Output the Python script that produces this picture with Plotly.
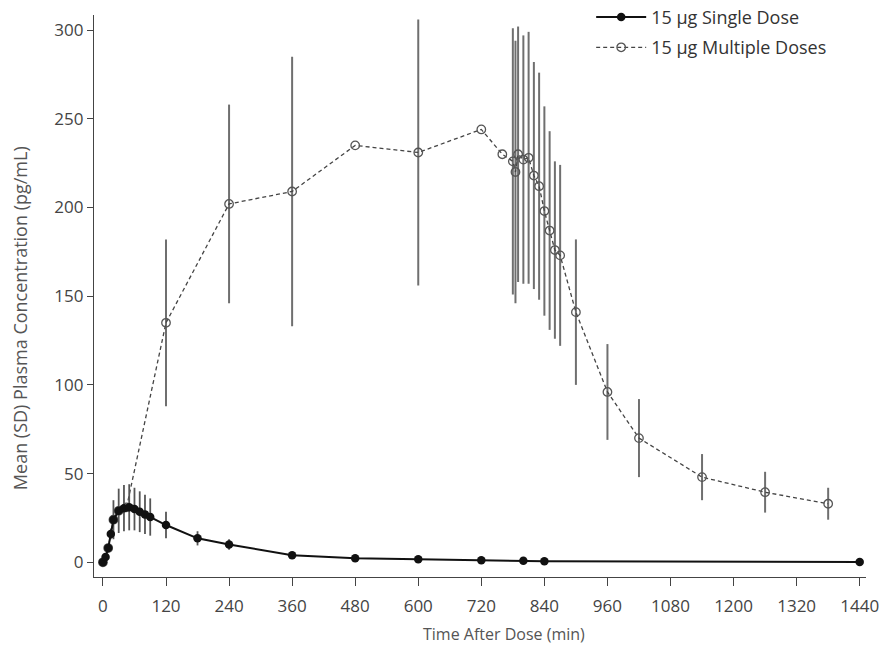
import plotly.graph_objects as go

# Single dose (15 µg)
single_time = [0, 5, 10, 15, 20, 30, 40, 50, 60, 70, 80, 90, 120, 180, 240, 360, 480, 600, 720, 800, 840, 1440]
single_mean = [0, 3, 8, 16, 24, 29, 30.5, 31, 30, 28.5, 27, 25.5, 21, 13.5, 10, 4, 2.3, 1.7, 1.1, 0.8, 0.6, 0.2]
single_sd = [0, 0.5, 1.5, 3, 11, 12.5, 13, 13, 12, 11.5, 11, 10.5, 7.5, 4, 3, 1, 0.5, 0.3, 0.2, 0.2, 0.2, 0]

# Multiple doses (15 µg)
multi_time = [0, 10, 20, 30, 45, 120, 240, 360, 480, 600, 720, 760, 780, 785, 790, 800, 810, 820, 830, 840, 850, 860, 870, 900, 960, 1020, 1140, 1260, 1380]
multi_mean = [0, 8, 24, 29, 31, 135, 202, 209, 235, 231, 244, 230, 226, 220, 230, 227, 228, 218, 212, 198, 187, 176, 173, 141, 96, 70, 48, 39.5, 33]
multi_sd = [0, 0, 0, 0, 0, 47, 56, 76, 0, 75, 0, 0, 75, 74, 72, 70, 71, 64, 64, 59, 56, 50, 51, 41, 27, 22, 13, 11.5, 9]

x_ticks = list(range(0, 1441, 120))
y_ticks = [0, 50, 100, 150, 200, 250, 300]

x_title = "Time After Dose (min)"
y_title = "Mean (SD) Plasma Concentration (pg/mL)"

fig = go.Figure()

fig.add_trace(go.Scatter(
    x=multi_time, y=multi_mean,
    mode="lines+markers",
    name="15 µg Multiple Doses",
    legendrank=2, legendgroup="multi",
    line=dict(color="#444444", width=1.3, dash="4px,3px"),
    marker=dict(symbol="circle-open", size=8.5, color="#555555", line=dict(width=1.3)),
    error_y=dict(type="data", array=multi_sd, visible=True, color="#6f6f6f", thickness=2, width=0),
))

fig.add_trace(go.Scatter(
    x=single_time, y=single_mean,
    mode="lines+markers",
    name="15 µg Single Dose",
    legendrank=1, legendgroup="single",
    line=dict(color="#111111", width=2),
    marker=dict(symbol="circle", size=8.5, color="#111111"),
    error_y=dict(type="data", array=single_sd, visible=True, color="#555555", thickness=1.8, width=0),
))

font_family = "Open Sans, Noto Sans, sans-serif"

fig.update_layout(
    width=883, height=652,
    margin=dict(l=94, r=17, t=15, b=75, autoexpand=False),
    paper_bgcolor="white",
    plot_bgcolor="white",
    font=dict(family=font_family, size=15, color="#444444"),
    showlegend=True,
    legend=dict(
        x=0.644, y=1.029, xanchor="left", yanchor="top",
        bgcolor="rgba(255,255,255,0)",
        font=dict(size=18, color="#333333"),
        itemwidth=50,
        tracegroupgap=4,
    ),
    xaxis=dict(
        range=[-17, 1452],
        tickvals=x_ticks,
        ticktext=[str(t) for t in x_ticks],
        showgrid=False, zeroline=False,
        showline=True, linecolor="#444444", linewidth=1.2,
        ticks="outside", ticklen=8, tickcolor="#444444",
        ticklabelstandoff=5,
        automargin=False,
        tickfont=dict(size=17, color="#444444"),
    ),
    yaxis=dict(
        range=[-8.3, 308.5],
        tickvals=y_ticks,
        showgrid=False, zeroline=False,
        showline=True, linecolor="#444444", linewidth=1.2,
        ticks="outside", ticklen=6, tickcolor="#444444",
        automargin=False,
        tickfont=dict(size=17, color="#444444"),
    ),
    annotations=[
        dict(text=x_title, xref="paper", yref="paper", x=0.531, y=-0.101,
             xanchor="center", yanchor="middle", showarrow=False,
             font=dict(size=16, color="#555555")),
        dict(text=y_title, xref="paper", yref="paper", x=-0.095, y=0.46,
             xanchor="center", yanchor="middle", showarrow=False, textangle=-90,
             font=dict(size=18, color="#555555")),
    ],
)

fig.write_html(
    "out.html",
    config={"displayModeBar": False},
    post_script="document.body.style.margin='0';document.documentElement.style.overflow='hidden';",
)
